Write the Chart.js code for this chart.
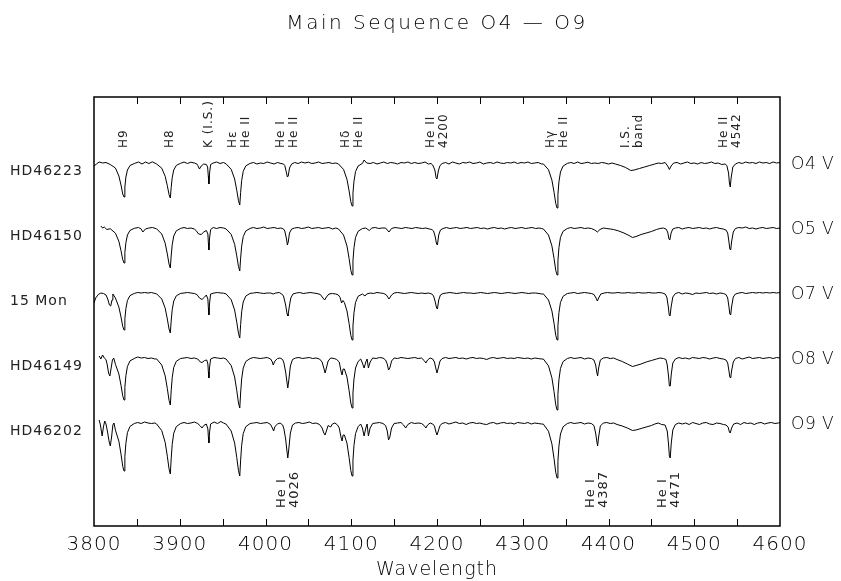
<!DOCTYPE html>
<html>
<head>
<meta charset="utf-8">
<script src="https://cdn.jsdelivr.net/npm/chart.js@4/dist/chart.umd.min.js"></script>
<style>
  body { margin: 0; background: #fff; }
  #spectra { display: block; }
</style>
</head>
<body>
<canvas id="spectra" width="841" height="581"></canvas>
<script>
const starNames = ['HD46223', 'HD46150', '15 Mon', 'HD46149', 'HD46202'];
const spectralTypes = ['O4 V', 'O5 V', 'O7 V', 'O8 V', 'O9 V'];
const offsets = [2.63, 1.98, 1.33, 0.68, 0.03]; // vertical shift of each normalised spectrum
const tickLabels = [3800, 3900, 4000, 4100, 4200, 4300, 4400, 4500, 4600];
const tickMarks = [3850, 3900, 3950, 4000, 4050, 4100, 4150, 4200, 4250, 4300, 4350, 4400, 4450, 4500, 4550];

// line identifications: [wavelength, text lines]
const topLabels = [
  [3835, ['H9']], [3889, ['H8']], [3934, ['K (I.S.)']], [3970, ['Hε', 'He II']],
  [4026, ['He I', 'He II']], [4101, ['Hδ', 'He II']], [4200, ['He II', '4200']],
  [4340, ['Hγ', 'He II']], [4428, ['I.S.', 'band']], [4542, ['He II', '4542']]
];
const bottomLabels = [[4026, ['He I', '4026']], [4387, ['He I', '4387']], [4471, ['He I', '4471']]];

// [wavelength, normalised flux]
const hd46223 = [
[3800,0.97],[3803,0.99],[3806,1.01],[3810,1.0],[3814,1.005],[3819,0.985],
[3825,0.95],[3829,0.87],[3831.5,0.78],[3833.5,0.69],[3835,0.66],[3836,0.76],[3837.2,0.86],[3839,0.93],[3842,0.975],[3847,0.995],
[3852,1.01],[3856,0.99],[3860,1.01],[3864,0.995],[3868,1.012],[3873,0.99],
[3879,0.948],[3883,0.867],[3885.5,0.773],[3887.5,0.685],[3889,0.65],[3890,0.755],[3891.2,0.853],[3893,0.93],[3896,0.976],[3901,0.997],
[3905,1.01],[3909,0.995],[3913,1.008],[3917,1.0],[3920,0.99],[3921,0.975],[3923,0.94],[3925,0.97],[3928,0.99],[3931,0.985],
[3932.5,0.96],[3933.3,0.87],[3934,0.79],[3934.8,0.9],[3936,0.985],[3939,1.0],[3943,1.01],[3947,0.995],[3951,1.005],
[3954,0.992],[3960,0.937],[3964,0.84],[3966.5,0.727],[3968.5,0.622],[3970,0.58],[3971,0.706],[3972.2,0.824],[3974,0.916],[3977,0.971],[3982,0.996],
[3986,1.005],[3990,0.99],[3994,1.0],[3998,0.995],[4002,1.01],[4006,1.0],[4010,0.99],[4014,1.005],[4018,0.995],[4021,0.99],
[4022.5,0.975],[4024.5,0.9],[4025.5,0.86],[4026.5,0.87],[4028,0.95],[4030.5,0.99],[4034,1.005],[4038,0.995],[4042,1.01],[4046,1.0],[4050,1.008],[4054,0.995],[4058,1.0],[4062,1.01],[4066,0.995],[4070,1.0],[4074,1.005],[4078,0.995],[4082,1.0],
[4085,0.991],[4091,0.936],[4095,0.837],[4097.5,0.721],[4099.5,0.613],[4101,0.57],[4102,0.699],[4103.2,0.819],[4105,0.914],[4108,0.97],[4113,0.996],[4115,1.03],[4118,1.0],
[4122,0.995],[4126,1.005],[4130,0.99],[4134,1.0],[4138,1.01],[4142,0.995],[4146,1.005],[4150,1.0],[4154,0.99],[4158,1.005],[4162,1.0],[4166,1.01],[4170,0.995],[4174,1.005],[4178,0.995],[4182,1.0],[4186,1.01],[4190,0.99],[4193,0.995],
[4195,0.98],[4197.5,0.93],[4199,0.85],[4200,0.84],[4201.5,0.92],[4203.5,0.975],[4206,0.995],[4210,1.005],[4214,0.99],[4218,1.01],[4222,1.0],[4226,0.99],[4230,1.005],[4234,1.0],[4238,1.01],[4242,0.995],[4246,1.0],[4250,1.01],[4254,0.99],[4258,1.0],[4262,1.005],[4266,0.995],[4270,1.01],[4274,1.0],[4278,0.995],[4282,1.005],[4286,1.0],[4290,1.01],[4294,0.995],[4298,1.005],[4302,1.0],[4306,1.01],[4310,0.995],[4314,1.0],[4318,1.005],[4322,0.99],
[4324,0.991],[4330,0.933],[4334,0.829],[4336.5,0.708],[4338.5,0.595],[4340,0.55],[4341,0.685],[4342.2,0.811],[4344,0.91],[4347,0.969],[4352,0.996],
[4356,1.005],[4360,0.995],[4364,1.01],[4368,0.995],[4372,1.0],[4376,1.008],[4380,0.995],[4384,1.0],[4388,0.995],[4392,1.005],[4396,1.0],[4400,0.99],[4404,1.0],
[4408,0.99],[4414,0.975],[4420,0.955],[4426,0.925],[4430,0.93],[4436,0.945],[4442,0.96],[4448,0.975],[4454,0.99],[4458,1.0],[4462,0.995],[4466,1.005],
[4469,0.97],[4471,0.935],[4473,0.97],[4476,1.0],[4480,1.005],[4484,0.99],[4488,1.0],[4492,1.01],[4496,0.995],[4500,1.0],[4504,0.99],[4508,1.005],[4512,0.995],[4516,1.0],[4520,1.01],[4524,0.995],[4528,1.0],[4532,0.985],[4536,0.99],
[4538,0.975],[4540,0.9],[4541,0.8],[4542,0.76],[4543,0.85],[4545,0.96],[4548,0.99],[4552,1.005],[4556,0.995],[4560,1.01],[4564,1.0],[4568,1.005],[4572,0.995],[4576,1.01],[4580,1.0],[4584,1.005],[4588,0.995],[4592,1.01],[4596,1.0],[4600,1.005]
];

const hd46150 = [
[3808,1.02],[3810,1.0],[3812,1.01],[3815,0.985],[3819,0.993],
[3825,0.948],[3829,0.867],[3831.5,0.773],[3833.5,0.685],[3835,0.65],[3836,0.755],[3837.2,0.853],[3839,0.93],[3842,0.976],[3847,0.997],
[3852,1.005],[3855,0.99],[3857,0.96],[3860,0.99],[3864,1.0],[3868,1.005],[3873,0.992],
[3879,0.94],[3883,0.848],[3885.5,0.74],[3887.5,0.64],[3889,0.6],[3890,0.72],[3891.2,0.832],[3893,0.92],[3896,0.972],[3901,0.996],
[3905,1.005],[3909,0.995],[3913,1.0],[3917,0.99],[3919,0.975],[3922,0.94],[3925,0.935],[3928,0.96],[3931,0.975],
[3932.8,0.94],[3933.4,0.85],[3934,0.78],[3934.8,0.9],[3936,0.985],[3939,1.005],[3943,0.995],[3947,1.005],[3951,1.0],
[3954,0.991],[3960,0.936],[3964,0.837],[3966.5,0.721],[3968.5,0.613],[3970,0.57],[3971,0.699],[3972.2,0.819],[3974,0.914],[3977,0.97],[3982,0.996],
[3986,1.005],[3990,0.995],[3994,1.0],[3998,1.01],[4002,0.995],[4006,1.0],[4010,1.005],[4014,0.995],[4018,1.0],[4021,0.99],
[4022.5,0.97],[4024.5,0.89],[4025.5,0.83],[4026.5,0.86],[4028,0.95],[4030.5,0.99],[4034,1.0],[4038,1.005],[4042,0.995],[4046,1.0],[4050,1.01],[4054,0.995],[4058,1.0],[4062,1.005],[4066,0.995],[4070,1.0],[4074,1.005],[4078,0.99],[4082,1.0],
[4085,0.991],[4091,0.93],[4095,0.821],[4097.5,0.695],[4099.5,0.577],[4101,0.53],[4102,0.671],[4103.2,0.803],[4105,0.906],[4108,0.967],[4113,0.995],
[4117,1.0],[4121,0.975],[4124,1.0],[4128,1.005],[4132,0.995],[4136,1.0],[4140,1.0],[4144,0.96],[4147,0.995],[4151,1.005],[4155,1.0],[4159,0.995],[4163,1.005],[4167,1.0],[4171,0.995],[4175,1.005],[4179,1.0],[4183,0.995],[4187,1.0],[4191,0.99],[4194,0.985],
[4196,0.97],[4198,0.91],[4199.5,0.84],[4200.5,0.83],[4202,0.93],[4204,0.98],[4207,0.995],[4211,1.005],[4215,0.995],[4219,1.0],[4223,1.005],[4227,0.995],[4231,1.0],[4235,1.005],[4239,0.995],[4243,1.0],[4247,1.005],[4251,0.995],[4255,1.0],[4259,0.99],[4263,1.0],[4267,1.005],[4271,0.995],[4275,1.0],[4279,0.99],[4283,1.0],[4287,1.005],[4291,0.995],[4295,1.0],[4299,1.005],[4303,0.995],[4307,1.0],[4311,1.005],[4315,0.995],[4319,1.0],[4322,0.995],
[4324,0.991],[4330,0.93],[4334,0.821],[4336.5,0.695],[4338.5,0.577],[4340,0.53],[4341,0.671],[4342.2,0.803],[4344,0.906],[4347,0.967],[4352,0.995],
[4356,1.005],[4360,0.995],[4364,1.0],[4368,1.005],[4372,0.995],[4376,1.0],[4380,0.995],[4384,0.98],[4387,0.96],[4390,0.985],[4394,1.0],[4398,0.995],[4402,0.99],
[4406,0.985],[4412,0.97],[4418,0.95],[4424,0.925],[4428,0.905],[4432,0.915],[4438,0.935],[4444,0.95],[4450,0.965],[4456,0.985],[4460,0.995],[4464,1.0],[4467,0.99],
[4469,0.96],[4470.5,0.89],[4471.5,0.88],[4473,0.95],[4475,0.99],[4478,1.0],[4482,1.005],[4486,0.99],[4490,1.0],[4494,1.005],[4498,0.995],[4502,1.0],[4506,1.005],[4510,0.995],[4514,1.0],[4518,0.99],[4522,1.0],[4526,1.005],[4530,0.995],[4534,0.99],[4537,0.98],
[4539,0.95],[4540.5,0.86],[4541.5,0.79],[4542.5,0.78],[4543.5,0.86],[4545.5,0.96],[4548,0.995],[4552,1.005],[4556,1.0],[4560,1.01],[4564,0.995],[4568,1.0],[4572,0.99],[4576,1.0],[4580,1.005],[4584,0.995],[4588,1.0],[4592,1.005],[4596,0.995],[4600,1.0]
];

const mon15 = [
[3800,0.9],[3802,0.95],[3805,0.985],[3808,1.0],[3811,0.995],[3814,0.98],
[3816,0.94],[3818,0.88],[3819.5,0.87],[3821,0.93],[3822,0.99],
[3825,0.95],[3829,0.859],[3831.5,0.76],[3833.5,0.667],[3835,0.63],[3836,0.741],[3837.2,0.845],[3839,0.926],[3842,0.974],[3847,0.996],
[3851,1.005],[3855,1.0],[3859,1.005],[3863,1.0],[3867,1.005],[3871,0.995],
[3873,0.992],[3879,0.94],[3883,0.848],[3885.5,0.74],[3887.5,0.64],[3889,0.6],[3890,0.72],[3891.2,0.832],[3893,0.92],[3896,0.972],[3901,0.996],
[3905,1.0],[3909,1.005],[3913,1.0],[3917,0.995],[3920,0.985],[3923,0.95],[3926,0.935],[3929,0.96],[3931,0.98],
[3932.8,0.94],[3933.4,0.85],[3934,0.78],[3934.8,0.9],[3936,0.99],[3940,1.0],[3944,1.005],[3948,1.0],[3951,0.998],
[3954,0.991],[3960,0.933],[3964,0.829],[3966.5,0.708],[3968.5,0.595],[3970,0.55],[3971,0.685],[3972.2,0.811],[3974,0.91],[3977,0.969],[3982,0.996],
[3986,1.0],[3990,1.005],[3994,1.0],[3998,0.995],[4002,1.0],[4006,1.0],[4009,0.99],[4012,1.0],[4016,1.005],[4019,0.99],
[4021,0.97],[4023.5,0.88],[4025.2,0.79],[4026.2,0.77],[4027.5,0.85],[4029.5,0.95],[4032,0.99],[4036,1.0],[4040,1.005],[4044,0.995],[4048,1.0],[4052,1.005],[4056,1.0],[4060,0.995],[4064,0.985],
[4067,0.95],[4069,0.93],[4071,0.96],[4074,0.99],[4078,0.995],[4082,0.99],[4085,0.98],
[4087,0.955],[4088.7,0.9],[4090.3,0.925],[4092,0.905],[4095,0.821],[4097.5,0.695],[4099.5,0.577],[4101,0.53],[4102,0.671],[4103.2,0.803],[4105,0.906],[4108,0.967],[4113,0.99],
[4116,0.97],[4118,0.99],[4122,1.0],[4126,0.995],[4130,1.005],[4134,1.0],[4138,0.995],[4141,0.98],[4144,0.94],[4147,0.98],[4150,1.0],[4154,1.005],[4158,1.0],[4162,0.995],[4166,1.0],[4170,1.005],[4174,1.0],[4178,0.995],[4182,1.0],[4186,0.995],[4190,1.0],[4194,0.99],
[4196,0.97],[4198,0.91],[4199.5,0.85],[4200.5,0.84],[4202,0.93],[4204,0.98],[4207,0.995],[4211,1.0],[4215,1.005],[4219,1.0],[4223,0.995],[4227,1.0],[4231,1.005],[4235,1.0],[4239,1.0],[4243,0.995],[4247,1.0],[4251,1.005],[4255,1.0],[4259,0.995],[4263,1.0],[4267,1.005],[4271,1.0],[4275,0.995],[4279,1.0],[4283,1.005],[4287,1.0],[4291,0.995],[4295,1.0],[4299,1.005],[4303,1.0],[4307,0.995],[4311,1.0],[4315,1.0],[4319,0.995],[4322,0.99],
[4324,0.991],[4330,0.93],[4334,0.821],[4336.5,0.695],[4338.5,0.577],[4340,0.53],[4341,0.671],[4342.2,0.803],[4344,0.906],[4347,0.967],[4352,0.995],
[4356,1.0],[4360,1.005],[4364,0.995],[4368,1.0],[4372,1.005],[4376,1.0],[4380,0.995],[4383,0.985],[4385.5,0.95],[4387,0.92],[4388.5,0.95],[4391,0.99],[4395,1.0],[4399,1.005],[4403,1.0],[4407,1.0],[4411,1.005],[4415,1.0],[4419,1.0],[4423,1.005],[4427,1.0],[4431,1.0],[4435,1.005],[4439,1.0],[4443,1.0],[4447,1.005],[4451,1.0],[4455,1.0],[4459,1.005],[4463,1.0],[4466,0.99],
[4468,0.96],[4469.8,0.86],[4470.8,0.78],[4471.8,0.77],[4473,0.86],[4475,0.96],[4478,0.995],[4482,1.005],[4486,0.99],[4490,1.0],[4494,0.995],[4498,0.985],[4502,1.0],[4506,0.995],[4510,1.0],[4514,1.005],[4518,0.995],[4522,1.0],[4526,0.99],[4530,1.0],[4534,0.995],[4537,0.985],
[4539,0.95],[4540.5,0.86],[4541.5,0.79],[4542.5,0.78],[4543.5,0.86],[4545.5,0.96],[4548,0.99],[4552,1.0],[4556,1.005],[4560,0.995],[4564,1.0],[4568,1.005],[4572,1.0],[4576,1.005],[4580,1.0],[4584,1.005],[4588,1.0],[4592,1.005],[4596,1.0],[4600,1.005]
];

const hd46149 = [
[3806,1.02],[3808,0.99],[3810,1.03],[3812,1.0],[3814,0.985],
[3815.5,0.93],[3817,0.85],[3818.5,0.82],[3820,0.9],[3821.5,0.98],[3823,1.0],
[3825,0.937],[3829,0.84],[3831.5,0.727],[3833.5,0.622],[3835,0.58],[3836,0.706],[3837.2,0.824],[3839,0.916],[3842,0.971],[3847,0.996],
[3851,1.01],[3855,1.0],[3859,1.005],[3863,0.995],[3867,1.0],[3871,0.99],
[3873,0.991],[3879,0.93],[3883,0.821],[3885.5,0.695],[3887.5,0.577],[3889,0.53],[3890,0.671],[3891.2,0.803],[3893,0.906],[3896,0.967],[3901,0.995],
[3905,1.0],[3909,1.005],[3913,0.995],[3917,1.0],[3921,0.99],[3924,0.96],[3926,0.955],[3929,0.975],[3931.5,0.98],
[3932.8,0.94],[3933.4,0.86],[3934,0.8],[3934.8,0.91],[3936,0.99],[3940,1.005],[3944,1.0],[3948,0.995],[3951,1.0],
[3954,0.99],[3960,0.925],[3964,0.81],[3966.5,0.675],[3968.5,0.55],[3970,0.5],[3971,0.65],[3972.2,0.79],[3974,0.9],[3977,0.965],[3982,0.995],
[3986,1.005],[3990,1.0],[3994,0.995],[3998,1.0],[4002,1.005],[4006,0.99],[4008,0.96],[4009,0.93],[4011,0.97],[4014,0.995],[4017,1.0],[4020,0.985],
[4021.5,0.95],[4023.5,0.86],[4025,0.76],[4026,0.7],[4027.2,0.78],[4029,0.92],[4031.5,0.985],[4035,1.0],[4039,1.005],[4043,0.995],[4047,1.0],[4051,1.005],[4055,0.995],[4059,1.0],[4063,0.99],[4066,0.96],
[4068,0.9],[4069.5,0.85],[4071,0.9],[4073,0.97],[4076,1.0],[4080,0.995],[4083,0.985],
[4086,0.96],[4088,0.87],[4089.3,0.83],[4090.5,0.89],[4092,0.89],[4095,0.81],[4097.5,0.675],[4099.5,0.55],[4101,0.5],[4102,0.65],[4103.2,0.79],[4105,0.9],[4108,0.965],[4111,0.99],
[4113,0.95],[4115,0.9],[4117,0.96],[4118.5,0.99],[4120,0.9],[4122,0.96],[4125,1.0],[4129,0.995],[4133,1.005],[4137,1.0],[4140,0.98],
[4142,0.94],[4143.5,0.88],[4145,0.9],[4147,0.97],[4150,1.0],[4154,0.995],[4158,1.005],[4162,1.0],[4166,0.995],[4170,1.0],[4174,1.005],[4178,0.995],[4182,1.0],[4185,0.975],[4187,0.95],[4189,0.98],[4192,1.0],[4195,0.99],
[4197,0.96],[4198.8,0.89],[4200,0.85],[4201.5,0.9],[4203.5,0.97],[4206,0.995],[4210,1.005],[4214,0.995],[4218,1.0],[4222,1.005],[4226,0.995],[4230,1.0],[4234,0.99],[4238,1.0],[4242,1.005],[4246,0.995],[4250,1.0],[4254,0.995],[4258,0.985],[4262,1.0],[4266,1.005],[4270,0.995],[4274,1.0],[4278,1.005],[4282,0.995],[4286,1.0],[4290,0.995],[4294,1.005],[4298,1.0],[4302,0.995],[4306,1.0],[4310,0.99],[4314,1.0],[4318,0.995],[4322,0.99],
[4324,0.99],[4330,0.922],[4334,0.802],[4336.5,0.662],[4338.5,0.532],[4340,0.48],[4341,0.636],[4342.2,0.782],[4344,0.896],[4347,0.964],[4352,0.995],
[4356,1.005],[4360,0.995],[4364,1.0],[4368,1.005],[4372,0.99],[4376,1.0],[4380,0.995],[4383,0.98],[4385,0.93],[4386.3,0.86],[4387.3,0.82],[4388.5,0.9],[4390.5,0.98],[4394,1.0],[4398,1.005],[4402,0.995],[4406,1.0],
[4410,0.985],[4416,0.965],[4422,0.94],[4428,0.915],[4432,0.925],[4438,0.94],[4444,0.96],[4450,0.975],[4456,0.99],[4460,1.0],[4464,0.995],[4467,0.985],
[4468.5,0.93],[4470,0.82],[4471,0.72],[4472,0.72],[4473.2,0.84],[4475,0.95],[4478,0.99],[4482,1.005],[4486,0.995],[4490,1.0],[4494,0.99],[4498,1.005],[4502,1.0],[4506,0.995],[4510,1.005],[4514,1.0],[4518,0.99],[4522,1.0],[4526,1.005],[4530,0.995],[4534,0.99],[4537,0.98],
[4539,0.95],[4540.5,0.87],[4541.5,0.81],[4542.5,0.8],[4543.5,0.87],[4545.5,0.96],[4548,0.995],[4552,1.005],[4556,0.99],[4560,1.0],[4564,1.01],[4568,0.995],[4572,1.0],[4576,1.005],[4580,0.995],[4584,1.0],[4588,1.005],[4592,0.995],[4596,1.005],[4600,1.0]
];

const hd46202 = [
[3806,1.03],[3807.5,0.98],[3809.5,0.87],[3811,0.96],[3812.5,1.02],[3814,0.99],
[3816,0.9],[3817.5,0.82],[3819,0.77],[3820.5,0.86],[3822,0.98],[3823.3,1.0],
[3825,0.928],[3829,0.818],[3831.5,0.688],[3833.5,0.568],[3835,0.52],[3836,0.664],[3837.2,0.798],[3839,0.904],[3842,0.966],[3847,0.995],
[3851,1.005],[3855,0.995],[3859,1.01],[3863,1.0],[3867,0.995],[3871,1.0],
[3873,0.99],[3879,0.924],[3883,0.806],[3885.5,0.668],[3887.5,0.541],[3889,0.49],[3890,0.643],[3891.2,0.786],[3893,0.898],[3896,0.964],[3901,0.995],
[3905,1.005],[3909,0.995],[3913,1.0],[3917,1.01],[3921,0.995],[3924,0.97],[3926,0.95],[3928,0.975],[3931,0.99],
[3932.8,0.94],[3933.4,0.86],[3934,0.8],[3934.8,0.91],[3936,0.99],[3940,1.01],[3944,0.995],[3948,1.015],[3951,1.0],
[3954,0.989],[3960,0.92],[3964,0.799],[3966.5,0.655],[3968.5,0.523],[3970,0.47],[3971,0.629],[3972.2,0.777],[3974,0.894],[3977,0.963],[3982,0.995],
[3986,1.0],[3990,1.005],[3994,0.995],[3998,1.0],[4002,1.005],[4006,0.985],[4008,0.95],[4009.5,0.92],[4011,0.965],[4014,0.99],[4017,1.0],[4020,0.98],
[4021.5,0.94],[4023.5,0.84],[4025,0.72],[4026,0.65],[4027.2,0.74],[4029,0.9],[4031.5,0.98],[4035,1.0],[4039,1.005],[4043,0.995],[4047,1.0],[4051,1.01],[4055,0.995],[4059,1.0],[4063,0.985],[4066,0.95],
[4068,0.9],[4069.5,0.88],[4071,0.92],[4073,0.975],[4076,0.96],[4078,0.99],[4081,1.0],[4084,0.98],
[4086,0.95],[4088,0.86],[4089.3,0.82],[4090.5,0.88],[4092,0.88],[4095,0.799],[4097.5,0.655],[4099.5,0.523],[4101,0.47],[4102,0.629],[4103.2,0.777],[4105,0.894],[4108,0.963],[4111,0.99],
[4113,0.95],[4115,0.87],[4117,0.95],[4118.5,0.99],[4120,0.87],[4122,0.95],[4125,0.995],[4129,1.0],[4133,1.005],[4137,0.995],[4140,0.975],
[4142,0.92],[4143.5,0.83],[4145,0.86],[4147,0.95],[4150,0.995],[4154,1.0],[4158,1.005],[4161,0.98],[4163.5,0.95],[4166,0.985],[4170,1.005],[4174,0.995],[4178,1.0],[4182,0.995],[4185,0.975],[4187,0.95],[4189,0.98],[4192,1.0],[4195,0.99],
[4197,0.97],[4198.8,0.91],[4200,0.88],[4201.5,0.92],[4203.5,0.975],[4206,0.995],[4210,1.005],[4214,0.99],[4218,1.0],[4222,1.01],[4226,0.995],[4230,1.0],[4234,0.985],[4238,1.0],[4242,1.005],[4246,0.995],[4250,1.0],[4254,0.99],[4258,0.985],[4262,1.0],[4266,1.005],[4270,0.99],[4274,1.0],[4278,1.005],[4282,0.995],[4286,1.0],[4290,0.99],[4294,1.005],[4298,1.0],[4302,0.995],[4306,1.005],[4310,0.99],[4314,1.0],[4318,0.995],[4322,0.99],
[4324,0.989],[4330,0.918],[4334,0.791],[4336.5,0.643],[4338.5,0.505],[4340,0.45],[4341,0.615],[4342.2,0.769],[4344,0.89],[4347,0.962],[4352,0.995],
[4356,1.005],[4360,0.995],[4364,1.0],[4368,1.005],[4372,0.99],[4376,1.0],[4380,0.995],[4383,0.975],[4385,0.9],[4386.3,0.82],[4387.3,0.77],[4388.5,0.86],[4390.5,0.97],[4394,1.0],[4398,1.005],[4402,0.995],[4406,1.0],
[4410,0.985],[4416,0.97],[4422,0.95],[4428,0.925],[4432,0.93],[4438,0.945],[4444,0.96],[4450,0.975],[4454,0.99],[4458,1.0],[4462,0.985],[4466,0.98],
[4468.5,0.92],[4470,0.79],[4471,0.67],[4472,0.65],[4473.2,0.8],[4475,0.93],[4478,0.985],[4482,1.0],[4486,0.99],[4490,1.0],[4494,0.985],[4498,1.005],[4502,0.995],[4506,0.985],[4510,1.0],[4514,1.005],[4518,0.99],[4522,0.985],[4526,1.0],[4530,0.995],[4534,0.985],[4537,0.98],
[4539.5,0.96],[4541,0.91],[4542,0.9],[4543.5,0.95],[4546,0.99],[4550,1.0],[4554,0.985],[4558,1.005],[4562,0.995],[4566,1.0],[4570,0.985],[4574,1.0],[4578,1.005],[4582,0.99],[4586,1.0],[4590,1.005],[4594,0.995],[4598,1.0],[4600,1.005]
];

const spectra = [hd46223, hd46150, mon15, hd46149, hd46202];
const FONT = '"DejaVu Sans", sans-serif';

// labels, ticks and frame drawn around the plot in the old PGPLOT style
const decorations = {
  id: 'decorations',
  afterDraw(chart) {
    const { ctx, chartArea: area, scales } = chart;
    const x = scales.x, y = scales.y;
    ctx.save();
    ctx.strokeStyle = '#000';
    ctx.fillStyle = '#000';

    ctx.lineWidth = 1.5;
    ctx.strokeRect(area.left, area.top, area.right - area.left, area.bottom - area.top);
    ctx.lineWidth = 1;
    tickMarks.forEach(w => {
      const px = Math.round(x.getPixelForValue(w)) + 0.5;
      ctx.beginPath();
      ctx.moveTo(px, area.bottom); ctx.lineTo(px, area.bottom - 7);
      ctx.moveTo(px, area.top); ctx.lineTo(px, area.top + 7);
      ctx.stroke();
    });

    ctx.letterSpacing = '1px';
    ctx.font = '200 20px ' + FONT;
    ctx.textAlign = 'center';
    ctx.textBaseline = 'middle';
    tickLabels.forEach(w => ctx.fillText(String(w), x.getPixelForValue(w), 545));
    ctx.font = '200 19px ' + FONT;
    ctx.fillText('Wavelength', (area.left + area.right) / 2, 570);
    ctx.font = '200 20px ' + FONT;
    ctx.letterSpacing = '2.5px';
    ctx.fillText('Main Sequence O4 \u2014 O9', (area.left + area.right) / 2, 24);

    ctx.textAlign = 'left';
    ctx.letterSpacing = '1px';
    ctx.font = '14px ' + FONT;
    ctx.fillStyle = '#222';
    starNames.forEach((s, i) => ctx.fillText(s, 10, y.getPixelForValue(offsets[i] + 1) + 8));
    ctx.fillStyle = '#000';
    ctx.letterSpacing = '0.5px';
    ctx.font = '200 17px ' + FONT;
    spectralTypes.forEach((s, i) => ctx.fillText(s, 791, y.getPixelForValue(offsets[i] + 1) + 2));

    ctx.fillStyle = '#222';
    ctx.letterSpacing = '1px';
    const rotated = (list, bottom, gap) => list.forEach(([w, lines]) => {
      ctx.save();
      ctx.translate(x.getPixelForValue(w), bottom);
      ctx.rotate(-Math.PI / 2);
      lines.forEach((t, k) => ctx.fillText(t, 0, (k - (lines.length - 1) / 2) * gap));
      ctx.restore();
    });
    ctx.font = '12px ' + FONT;
    rotated(topLabels, 148, 13);
    ctx.font = '13px ' + FONT;
    rotated(bottomLabels, 508, 13);
    ctx.restore();
  }
};

new Chart(document.getElementById('spectra'), {
  type: 'line',
  data: {
    datasets: spectra.map((s, i) => ({
      label: starNames[i],
      data: s.map(([w, f]) => ({ x: w, y: f + offsets[i] })),
      borderColor: '#000',
      borderWidth: 1,
      pointRadius: 0,
      tension: 0
    }))
  },
  options: {
    responsive: false,
    animation: false,
    layout: { padding: { left: 94, right: 61, top: 97, bottom: 55 } },
    scales: {
      x: { type: 'linear', min: 3800, max: 4600, display: false },
      y: { min: 0, max: 4.29, display: false }
    },
    plugins: { legend: { display: false }, tooltip: { enabled: false } }
  },
  plugins: [decorations]
});
</script>
</body>
</html>
